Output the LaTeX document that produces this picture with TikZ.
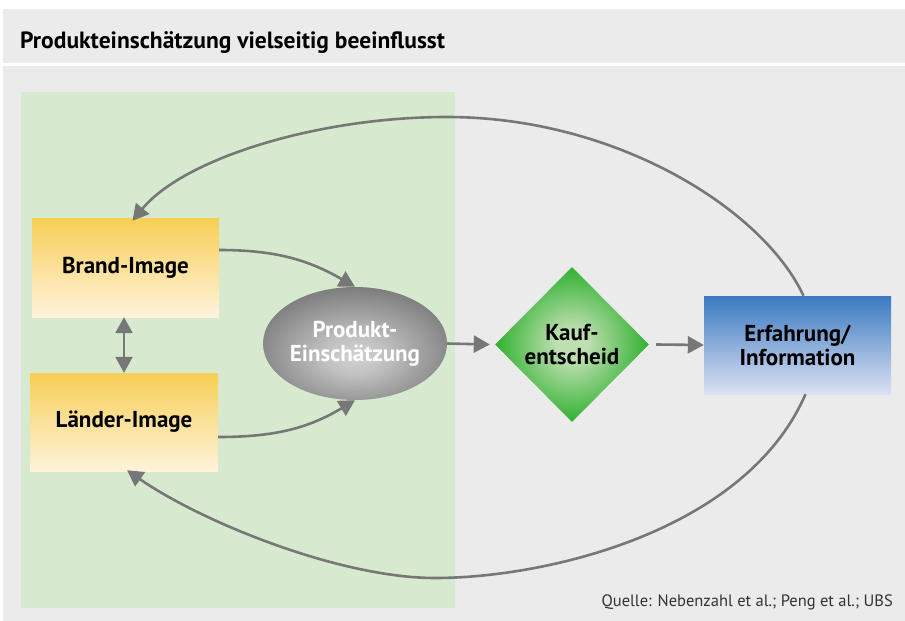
\documentclass[tikz,border=0pt]{standalone}
\usepackage{fontspec}
\setmainfont{PT Sans}
\usetikzlibrary{arrows.meta,shapes.geometric}
\definecolor{bggray}{HTML}{EBEBEB}
\definecolor{lgreen}{HTML}{D7EACF}
\definecolor{yeltop}{HTML}{F7CF55}
\definecolor{yelbot}{HTML}{FFF3DC}
\definecolor{bluetop}{HTML}{3A7AC2}
\definecolor{bluemid}{HTML}{98ABDA}
\definecolor{bluebot}{HTML}{DCE1F3}
\definecolor{ellin}{HTML}{D2D2D2}
\definecolor{ellmid}{HTML}{C2C2C2}
\definecolor{ellout}{HTML}{6C6C6C}
\definecolor{dialight}{HTML}{BEDFB0}
\definecolor{diagreen}{HTML}{37B337}
\definecolor{arrgray}{HTML}{777777}
\pgfdeclareradialshading{ellshade}{\pgfpoint{0bp}{-6bp}}{color(0bp)=(ellin); color(8bp)=(ellmid); color(34bp)=(ellout); color(75bp)=(ellout)}
\pgfdeclareradialshading{diashade}{\pgfpoint{0bp}{0bp}}{color(0bp)=(dialight); color(5bp)=(dialight); color(24bp)=(diagreen); color(75bp)=(diagreen)}
\begin{document}
\begin{tikzpicture}[x=1pt,y=-1pt,
  lbl/.style={font=\fontsize{23}{24}\selectfont\bfseries, align=center, inner sep=0pt},
  yelbox/.style={lbl, rectangle, minimum height=98pt, shading=axis, top color=yeltop, bottom color=yelbot},
  arr/.style={draw=arrgray, line width=2.6pt, -{Triangle[length=16pt,width=17pt]}},
  darr/.style={draw=arrgray, line width=2.6pt, {Triangle[length=16pt,width=17pt]}-{Triangle[length=16pt,width=17pt]}}]
\useasboundingbox (0,0) rectangle (905,621);
\fill[white] (0,0) rectangle (905,621);
\fill[bggray] (3,9) rectangle (905,63);
\fill[bggray] (3,66) rectangle (905,621);
\fill[lgreen] (21,92) rectangle (455,608);
\node[anchor=base west, inner sep=0pt, font=\fontsize{23.5}{26}\selectfont\bfseries] (title) at (20,48) {Produkteinschätzung vielseitig beeinflusst};
\node[anchor=base east, inner sep=0pt, font=\fontsize{16.5}{19}\selectfont, text=black!80] (src) at (893,606) {Quelle: Nebenzahl et al.; Peng et al.; UBS};
\node[yelbox, minimum width=187pt, minimum height=99pt] (brand) at (125.5,267.5) {Brand-Image};
\node[yelbox, minimum width=188pt] (land) at (124,422) {Länder-Image};
\node[lbl, ellipse, minimum width=176pt, minimum height=113pt, shading=ellshade, text=white] (ell) at (355,343.5) {Produkt-\\Einschätzung};
\node[lbl, diamond, aspect=1, minimum width=154pt, minimum height=155pt, shading=diashade] (dia) at (572,344.5) {Kauf-\\entscheid};
\node[lbl, rectangle, minimum width=187pt, minimum height=98pt, shading=axis, top color=bluetop, middle color=bluemid, bottom color=bluebot] (erf) at (797.5,345) {Erfahrung/\\Information};
\coordinate (topc) at (447,117);
\coordinate (botc) at (435,578);
\draw[arr] (ell.east) -- ([xshift=-5pt]dia.west);
\draw[arr] ([xshift=7pt]dia.east) -- (erf.west);
\draw[arr] ([yshift=17.5pt]brand.east) to[out=0,in=150] (ell.north);
\draw[arr] ([yshift=-15pt]land.east) to[out=0,in=-149] (ell.south);
\draw[darr] ([xshift=-1.5pt]brand.south) -- (land.north);
\draw[arr] ([xshift=6pt]erf.north) .. controls +(-40,-86) and +(170,0) .. (topc) .. controls +(-130,0) and +(51,-62) .. ([xshift=7pt,yshift=-3pt]brand.north);
\draw[arr] ([xshift=8pt]erf.south) .. controls +(-60,138) and +(110,0) .. (botc) .. controls +(-95,0) and +(75,52) .. ([xshift=3pt,yshift=1pt]land.south);
\end{tikzpicture}
\end{document}
